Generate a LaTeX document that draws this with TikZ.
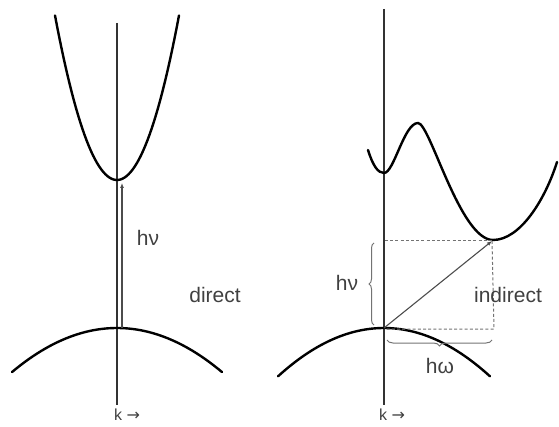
\documentclass[tikz,border=0pt]{standalone}
\usepackage{fontspec}
\setmainfont{Liberation Sans}
\newfontfamily\arrowfont{DejaVu Sans}
\usetikzlibrary{decorations.pathreplacing,arrows.meta}
\begin{document}
\begin{tikzpicture}[x=1pt,y=-1pt,
  band/.style={line width=2.4pt,black,line cap=round},
  axisline/.style={line width=1.1pt,black!80},
  trans/.style={line width=1.1pt,black!70,-{Latex[length=5pt,width=4pt]}},
  dashline/.style={line width=1pt,black!55,dash pattern=on 3pt off 2.2pt},
  bracestyle/.style={line width=1pt,black!55,decorate},
  lbl/.style={font=\fontsize{21}{24}\selectfont,text=black!75,inner sep=0pt},
  klbl/.style={font=\fontsize{16}{18}\selectfont,text=black!75,inner sep=0pt}]
\useasboundingbox (0,0) rectangle (559,427);
% ---------- left panel (direct) ----------
\coordinate (La) at (117,23);
\coordinate (Lb) at (117,405);
\draw[axisline] (La) -- (Lb);
\draw[band] plot[domain=-62:62,samples=60] ({117+\x},{180-0.0428*\x*\x});
\draw[band] plot[domain=-105:105,samples=60] ({117+\x},{328+0.0040*\x*\x});
\coordinate (Lv) at (122,328);
\coordinate (Lc) at (122,183);
\draw[trans] (Lv) -- (Lc);
\node[lbl] (hvL) at (148,238) {hν};
\node[lbl] (dir) at (215,295) {direct};
\node[klbl] (kL) at (127,415) {k {\arrowfont\fontsize{16}{18}\selectfont →}};
% ---------- right panel (indirect) ----------
\coordinate (Ra) at (384,9);
\coordinate (Rb) at (384,405);
\draw[axisline] (Ra) -- (Rb);
\draw[band] (368,150) .. controls (373,166) and (378,173) .. (384,173)
  .. controls (394,173) and (404,123) .. (418,123)
  .. controls (430,123) and (460,240) .. (493,240)
  .. controls (520,240) and (545,200) .. (557,162);
\draw[band] plot[domain=-106:106,samples=60] ({384+\x},{328+0.0043*\x*\x});
\coordinate (Rv) at (384,328);
\coordinate (Rc) at (492,241);
\coordinate (Rr) at (494,329);
\draw[dashline] (385,241) -- (Rc);
\draw[dashline] (Rc) -- (Rr) -- (385,329);
\draw[trans] (Rv) -- (Rc);
\draw[bracestyle,decoration={brace,amplitude=5pt}] (374,325) -- (374,243);
\draw[bracestyle,decoration={brace,amplitude=6pt,mirror}] (387,340) -- (492,340);
\node[lbl] (hvR) at (347,283) {hν};
\node[lbl] (hw) at (440,366) {hω};
\node[lbl] (ind) at (508,295) {indirect};
\node[klbl] (kR) at (392,415) {k {\arrowfont\fontsize{16}{18}\selectfont →}};
\end{tikzpicture}
\end{document}
